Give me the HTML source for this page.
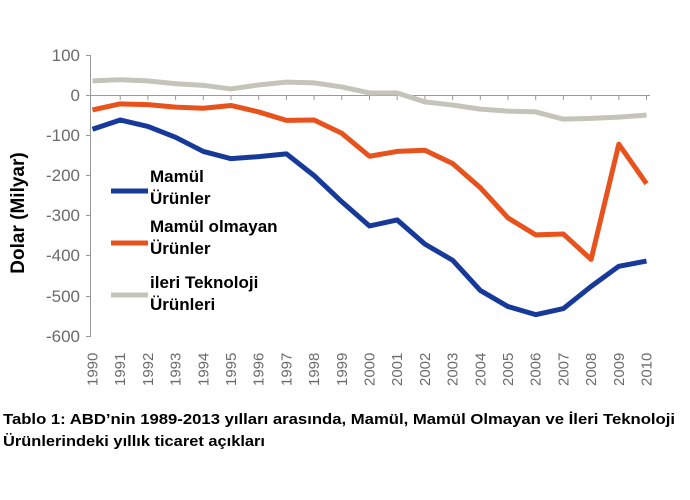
<!DOCTYPE html>
<html><head><meta charset="utf-8"><style>
html,body{margin:0;padding:0;background:#fff;width:690px;height:500px;overflow:hidden}
</style></head><body>
<svg width="690" height="500" xmlns="http://www.w3.org/2000/svg" font-family="Liberation Sans, sans-serif">
<g stroke="#999" stroke-width="1" fill="none">
<line x1="90.5" y1="55" x2="90.5" y2="337"/>
<line x1="86" y1="55.5" x2="90" y2="55.5"/><line x1="86" y1="95.5" x2="90" y2="95.5"/>
<line x1="86" y1="135.5" x2="90" y2="135.5"/><line x1="86" y1="175.5" x2="90" y2="175.5"/>
<line x1="86" y1="215.5" x2="90" y2="215.5"/><line x1="86" y1="255.5" x2="90" y2="255.5"/>
<line x1="86" y1="296.5" x2="90" y2="296.5"/><line x1="86" y1="336.5" x2="90" y2="336.5"/>
<line x1="90" y1="95.5" x2="650" y2="95.5"/>
</g>
<g id="ticks" stroke="#999" stroke-width="1"></g>
<g fill="#6b6b6b" font-size="17" text-anchor="end">
<text x="80" y="61">100</text><text x="80" y="101">0</text><text x="80" y="141">-100</text>
<text x="80" y="181">-200</text><text x="80" y="221">-300</text><text x="80" y="261">-400</text>
<text x="80" y="302">-500</text><text x="80" y="342">-600</text>
</g>
<g id="years" fill="#6b6b6b" font-size="15"></g>
<text transform="translate(24,213) rotate(-90)" text-anchor="middle" font-size="19" font-weight="bold">Dolar (Milyar)</text>
<polyline id="g" fill="none" stroke="#c4c4b8" stroke-width="5" stroke-linejoin="round"/>
<polyline id="o" fill="none" stroke="#e8521c" stroke-width="5" stroke-linejoin="round"/>
<polyline id="b" fill="none" stroke="#173a9a" stroke-width="5" stroke-linejoin="round"/>
<line x1="111" y1="191" x2="148" y2="191" stroke="#173a9a" stroke-width="5"/>
<line x1="111" y1="243" x2="148" y2="243" stroke="#e8521c" stroke-width="5"/>
<line x1="111" y1="295" x2="148" y2="295" stroke="#c4c4b8" stroke-width="5"/>
<g font-size="17" font-weight="bold" fill="#000">
<text x="150" y="182">Mamül</text><text x="150" y="204">Ürünler</text>
<text x="150" y="232">Mamül olmayan</text><text x="150" y="254">Ürünler</text>
<text x="150" y="288">ileri Teknoloji</text><text x="150" y="310">Ürünleri</text>
</g>
<g font-size="15" font-weight="bold" fill="#000">
<text x="3" y="424" textLength="672" lengthAdjust="spacingAndGlyphs">Tablo 1: ABD’nin 1989-2013 yılları arasında, Mamül, Mamül Olmayan ve İleri Teknoloji</text>
<text x="3" y="446" textLength="262" lengthAdjust="spacingAndGlyphs">Ürünlerindeki yıllık ticaret açıkları</text>
</g>
</svg>
<script>
var X=function(i){return 92.5+i*27.7},Y=function(v){return 95-v*0.403};
var b=[-85,-62,-78,-105,-140,-158,-153,-146,-200,-265,-325,-310,-370,-410,-485,-525,-545,-530,-475,-425,-412];
var o=[-37,-22,-24,-30,-33,-26,-42,-63,-62,-95,-152,-140,-137,-170,-230,-305,-347,-345,-408,-122,-220];
var g=[35,38,35,28,24,15,25,32,30,20,5,5,-17,-25,-35,-40,-42,-60,-58,-55,-50];
function pts(a){return a.map(function(v,i){return X(i)+","+Y(v)}).join(" ")}
document.getElementById("b").setAttribute("points",pts(b));
document.getElementById("o").setAttribute("points",pts(o));
document.getElementById("g").setAttribute("points",pts(g));
var ns="http://www.w3.org/2000/svg",yr=document.getElementById("years"),tk=document.getElementById("ticks");
for(var i=0;i<21;i++){var t=document.createElementNS(ns,"text");
t.setAttribute("transform","translate("+(X(i)+5)+",386) rotate(-90)");t.textContent=1990+i;yr.appendChild(t);
if(i>0){var l=document.createElementNS(ns,"line");l.setAttribute("x1",X(i));l.setAttribute("x2",X(i));l.setAttribute("y1",95);l.setAttribute("y2",100);tk.appendChild(l);}}
</script>
</body></html>
